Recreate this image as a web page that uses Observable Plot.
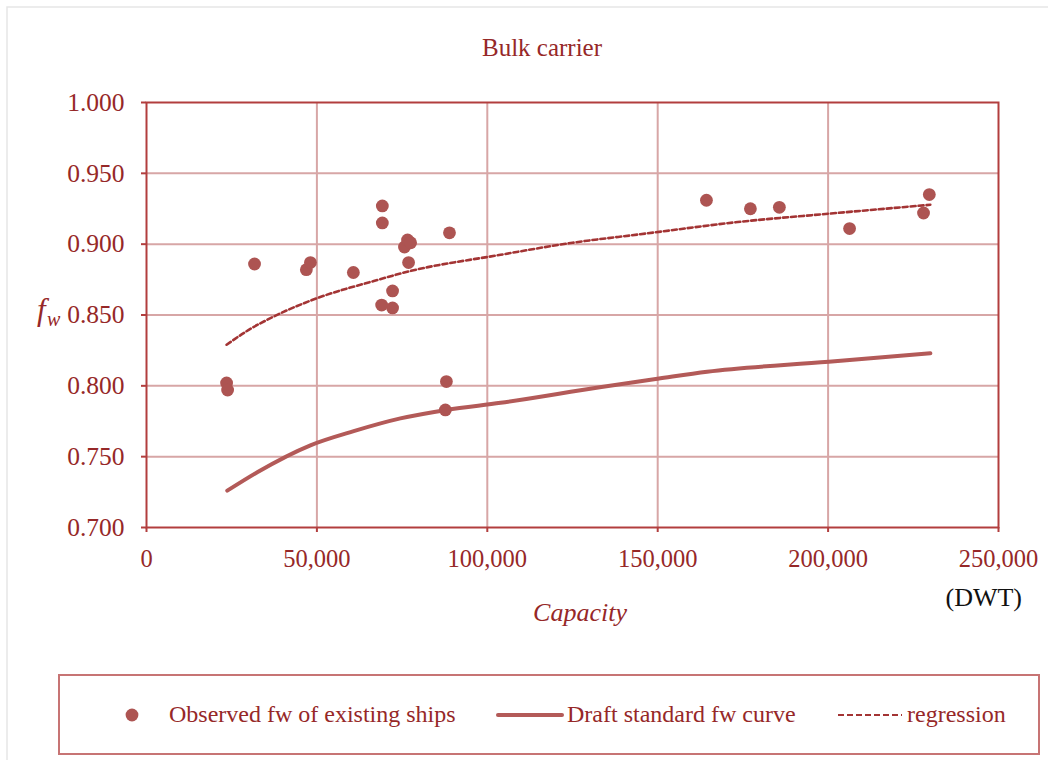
<!DOCTYPE html>
<html><head><meta charset="utf-8">
<script src="https://cdn.jsdelivr.net/npm/d3@7"></script>
<script src="https://cdn.jsdelivr.net/npm/@observablehq/plot@0.6"></script>
<style>body{margin:0;background:#fff}</style>
</head><body><div id="chart"></div>
<script>
// ---- data ----
const xTicks = [0, 50000, 100000, 150000, 200000, 250000];
const yTicks = [0.70, 0.75, 0.80, 0.85, 0.90, 0.95, 1.00];

const observedDWT = [23500, 23800, 31700, 46900, 48100, 60700, 69200, 69200, 69000, 72200, 72200, 75700, 76600, 77500, 76900, 88900, 88000, 87700, 164300, 177200, 185700, 206300, 228000, 229700];
const observedFw  = [0.802, 0.797, 0.886, 0.882, 0.887, 0.880, 0.927, 0.915, 0.857, 0.867, 0.855, 0.898, 0.903, 0.901, 0.887, 0.908, 0.803, 0.783, 0.931, 0.925, 0.926, 0.911, 0.922, 0.935];

const draftDWT = [23700, 32500, 48100, 60800, 74500, 88000, 103900, 133000, 150000, 164500, 200200, 230000];
const draftFw  = [0.726, 0.739, 0.758, 0.768, 0.777, 0.783, 0.788, 0.799, 0.805, 0.810, 0.817, 0.823];

const regDWT = [23500, 30000, 37400, 50200, 66700, 76500, 103900, 125000, 144900, 175000, 200200, 230000];
const regFw  = [0.829, 0.8395, 0.849, 0.862, 0.874, 0.8805, 0.8925, 0.901, 0.907, 0.916, 0.9215, 0.9278];

const seriesLabels = ["Observed fw of existing ships", "Draft standard fw curve", "regression"];

// ---- styles ----
const TEXT = "#962828";
const FRAME = "#b23e3e";
const GRID = "#d7a6a6";
const DOT = "#ad5452";
const SOLID = "#b35a58";
const DASH = "#a33434";
const FONT = "'Liberation Serif', 'DejaVu Serif', serif";

const observed = observedDWT.map((d, i) => ({dwt: d, fw: observedFw[i]}));
const draft = draftDWT.map((d, i) => ({dwt: d, fw: draftFw[i]}));
const reg = regDWT.map((d, i) => ({dwt: d, fw: regFw[i]}));

const plot = Plot.plot({
  width: 1048, height: 760,
  marginTop: 102, marginBottom: 233, marginLeft: 146, marginRight: 50,
  style: {fontFamily: FONT, fontSize: "24px", color: TEXT, background: "transparent", overflow: "visible"},
  x: {domain: [0, 250000]},
  y: {domain: [0.7, 1.0]},
  marks: [
    Plot.ruleX(xTicks.slice(1, -1), {stroke: GRID, strokeWidth: 2}),
    Plot.ruleY(yTicks.slice(1, -1), {stroke: GRID, strokeWidth: 2}),
    Plot.line(reg, {x: "dwt", y: "fw", stroke: DASH, strokeWidth: 2.6, strokeDasharray: "5,3", curve: "monotone-x"}),
    Plot.line(draft, {x: "dwt", y: "fw", stroke: SOLID, strokeWidth: 4, curve: "monotone-x", strokeLinecap: "round"}),
    Plot.dot(observed, {x: "dwt", y: "fw", r: 6.4, fill: DOT, stroke: "none"}),
    Plot.frame({stroke: FRAME, strokeWidth: 2}),
    Plot.axisY({ticks: yTicks, tickFormat: d3.format(".3f"), tickSize: 5, tickPadding: 17, label: null, stroke: FRAME, strokeWidth: 2, fill: TEXT, fontSize: 25.5}),
    Plot.axisX({ticks: xTicks, tickFormat: d3.format(","), tickSize: 5, tickPadding: 17, label: null, stroke: FRAME, strokeWidth: 2, fill: TEXT, fontSize: 24.5})
  ]
});

document.getElementById("chart").appendChild(plot);

// ---- annotations, title, legend ----
const svg = d3.select(plot);
svg.insert("rect", ":first-child")
  .attr("x", 7).attr("y", 7).attr("width", 1060).attr("height", 770)
  .attr("fill", "#fff").attr("stroke", "#e6e6e6").attr("stroke-width", 1.5);

const txt = (x, y, s, opts = {}) => svg.append("text")
  .attr("x", x).attr("y", y).text(s)
  .attr("fill", opts.fill || TEXT)
  .attr("font-family", FONT)
  .attr("font-size", opts.size || 24)
  .attr("font-style", opts.italic ? "italic" : "normal")
  .attr("text-anchor", opts.anchor || "start");

txt(542, 56, "Bulk carrier", {anchor: "middle", size: 25});
txt(580, 621, "Capacity", {anchor: "middle", size: 26, italic: true});
txt(1022, 606, "(DWT)", {anchor: "end", size: 26, fill: "#111"});
txt(37, 320, "f", {size: 31, italic: true});
txt(47, 326, "w", {size: 20, italic: true});

// legend
svg.append("rect").attr("x", 59).attr("y", 675).attr("width", 980).attr("height", 79)
  .attr("fill", "none").attr("stroke", "#c77474").attr("stroke-width", 2);
svg.append("circle").attr("cx", 132).attr("cy", 715).attr("r", 6.4).attr("fill", DOT);
txt(169, 722, seriesLabels[0]);
svg.append("line").attr("x1", 498).attr("x2", 562).attr("y1", 715).attr("y2", 715)
  .attr("stroke", SOLID).attr("stroke-width", 4).attr("stroke-linecap", "round");
txt(567, 722, seriesLabels[1]);
svg.append("line").attr("x1", 838).attr("x2", 902).attr("y1", 715).attr("y2", 715)
  .attr("stroke", DASH).attr("stroke-width", 2.2).attr("stroke-dasharray", "6,3");
txt(907, 722, seriesLabels[2]);
</script>
</body></html>
